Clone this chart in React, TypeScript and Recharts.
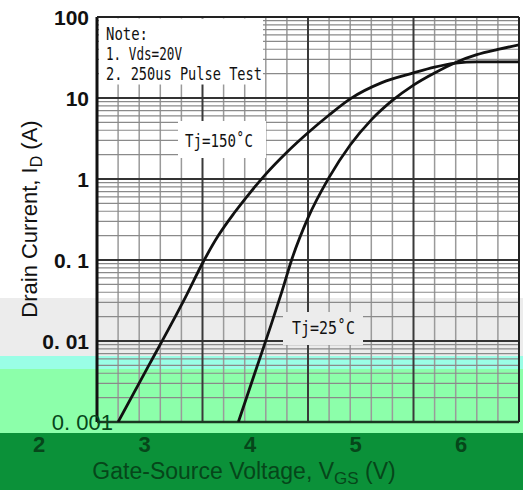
import React from "react";
import { LineChart, Line, XAxis, YAxis, ReferenceLine } from "recharts";

// Gate-source voltage (V) and drain current (A)
const VGS_150 = [2.2, 2.5, 2.7, 2.85, 3.0, 3.15, 3.3, 3.45, 3.6, 3.8, 4.0, 4.2, 4.4, 4.7, 5.0, 5.2, 5.4, 5.6, 6.0];
const ID_150 = [0.001, 0.00525, 0.0158, 0.0372, 0.0912, 0.2, 0.38, 0.676, 1.15, 2.14, 3.72, 6.17, 9.77, 15.5, 20.4, 24.0, 26.9, 27.9, 27.9];
const VGS_25 = [3.34, 3.5, 3.65, 3.75, 3.85, 4.0, 4.2, 4.4, 4.6, 4.8, 5.0, 5.2, 5.4, 5.6, 5.8, 6.0];
const ID_25 = [0.001, 0.00417, 0.0158, 0.0398, 0.105, 0.331, 1.047, 2.63, 5.37, 9.33, 14.45, 20.4, 27.5, 34.3, 39.8, 45.2];

const X_TICKS = [2, 3, 4, 5, 6];
const Y_TICKS = [0.001, 0.01, 0.1, 1, 10, 100];
const Y_TICK_LABELS = ["0. 001", "0. 01", "0. 1", "1", "10", "100"];
const X_MINOR = [2.2, 2.4, 2.6, 2.8, 3.2, 3.4, 3.6, 3.8, 4.2, 4.4, 4.6, 4.8, 5.2, 5.4, 5.6, 5.8];
const X_MAJOR = [3, 4, 5];
const DECADES = [0.001, 0.01, 0.1, 1, 10];
const MANTISSAS = [2, 3, 4, 5, 6, 7, 8, 9];
const Y_MAJOR = [0.01, 0.1, 1, 10];
const NOTE_LINES = ["Note:", "1. Vds=20V", "2. 250us Pulse Test"];
const LABEL_150 = "Tj=150˚C";
const LABEL_25 = "Tj=25˚C";

const data150 = VGS_150.map((v, i) => ({ v, id: ID_150[i] }));
const data25 = VGS_25.map((v, i) => ({ v, id: ID_25[i] }));
const Y_MINOR: number[] = [];
DECADES.forEach((d) => MANTISSAS.forEach((m) => Y_MINOR.push(+(d * m).toPrecision(3))));

const SANS = "'Liberation Sans', Arial, sans-serif";
const MONO = "'DejaVu Sans Mono', 'Liberation Mono', monospace";
const INK = "#111";
const DARK_GREEN_INK = "#06461a";

const XTick = (props: any) => {
  const { x, payload } = props;
  return (
    <text x={x - 58} y={452} textAnchor="middle" fontFamily={SANS} fontSize={22} fontWeight="bold" fill={DARK_GREEN_INK}>
      {payload.value}
    </text>
  );
};

const YTick = (props: any) => {
  const { y, payload } = props;
  const idx = Y_TICKS.indexOf(payload.value);
  const isLast = payload.value === 0.001;
  return (
    <text
      x={isLast ? 113 : 89}
      y={y + 8}
      textAnchor="end"
      fontFamily={SANS}
      fontSize={isLast ? 22 : 21}
      fontWeight={isLast ? "normal" : "bold"}
      fill={isLast ? DARK_GREEN_INK : INK}
    >
      {Y_TICK_LABELS[idx]}
    </text>
  );
};

const YTitle = () => (
  <text transform="translate(37,219) rotate(-90)" textAnchor="middle" fontFamily={SANS} fontSize={22} fill={INK}>
    <tspan>Drain Current, I</tspan>
    <tspan fontSize={16} dy={5}>D</tspan>
    <tspan dy={-5}> (A)</tspan>
  </text>
);

const XTitle = () => (
  <text x={244} y={479} textAnchor="middle" fontFamily={SANS} fontSize={23} fill={DARK_GREEN_INK}>
    <tspan>Gate-Source Voltage, V</tspan>
    <tspan fontSize={17} dy={5}>GS</tspan>
    <tspan dy={-5}> (V)</tspan>
  </text>
);

const bands = [
  { top: 298, h: 58, bg: "#ececec" },
  { top: 356, h: 13, bg: "#9afee6" },
  { top: 369, h: 64, bg: "#8cffaa" },
  { top: 433, h: 57, bg: "#0b9139" },
];

export default function App() {
  return (
    <div style={{ position: "absolute", left: 0, top: 0, width: 523, height: 490, background: "#fff", overflow: "hidden" }}>
      {bands.map((b, i) => (
        <div key={i} style={{ position: "absolute", left: 0, top: b.top, width: 523, height: b.h, background: b.bg }} />
      ))}
      <div style={{ position: "absolute", left: 0, top: 0 }}>
        <LineChart width={523} height={490} margin={{ top: 17, right: 4, bottom: 0, left: 0 }}>
          <XAxis
            type="number"
            dataKey="v"
            domain={[2, 6]}
            ticks={X_TICKS}
            allowDataOverflow
            axisLine={false}
            tickLine={false}
            height={68}
            tick={<XTick />}
            label={{ content: () => <XTitle /> }}
          />
          <YAxis
            type="number"
            dataKey="id"
            scale="log"
            domain={[0.001, 100]}
            ticks={Y_TICKS}
            allowDataOverflow
            axisLine={false}
            tickLine={false}
            width={97}
            tick={<YTick />}
            label={{ content: () => <YTitle /> }}
          />
          {X_MINOR.map((v) => (
            <ReferenceLine key={"xm" + v} x={v} stroke="#9a9a9a" strokeWidth={1.5} />
          ))}
          {Y_MINOR.map((v) => (
            <ReferenceLine key={"ym" + v} y={v} stroke="#8a8a8a" strokeWidth={1.2} />
          ))}
          {X_MAJOR.map((v) => (
            <ReferenceLine key={"xM" + v} x={v} stroke="#3a3a3a" strokeWidth={2} />
          ))}
          {Y_MAJOR.map((v) => (
            <ReferenceLine key={"yM" + v} y={v} stroke="#333" strokeWidth={2} />
          ))}
          <ReferenceLine x={2} stroke="#111" strokeWidth={3} />
          <ReferenceLine x={6} stroke="#222" strokeWidth={2} />
          <ReferenceLine y={100} stroke="#222" strokeWidth={2} />
          <ReferenceLine y={0.001} stroke="#1a3a22" strokeWidth={2.5} />
          <Line data={data150} dataKey="id" type="monotone" stroke="#111" strokeWidth={2.8} dot={false} isAnimationActive={false} />
          <Line data={data25} dataKey="id" type="monotone" stroke="#111" strokeWidth={2.8} dot={false} isAnimationActive={false} />
        </LineChart>
      </div>
      <svg width={523} height={490} style={{ position: "absolute", left: 0, top: 0, pointerEvents: "none" }}>
        <rect x={99} y={18.5} width={164} height={66} fill="#fff" />
        {NOTE_LINES.map((t, i) => (
          <text
            key={t}
            x={106}
            y={40 + i * 20}
            fontFamily={MONO}
            fontSize={17}
            fill={INK}
            textLength={[42, 76, 156][i]}
            lengthAdjust="spacingAndGlyphs"
          >
            {t}
          </text>
        ))}
        <rect x={178} y={121} width={88} height={37} fill="#fff" />
        <text x={185} y={147} fontFamily={MONO} fontSize={17} fill={INK} textLength={68} lengthAdjust="spacingAndGlyphs">
          {LABEL_150}
        </text>
        <rect x={283} y={312} width={80} height={33} fill="#ececec" />
        <text x={292} y={334} fontFamily={MONO} fontSize={17} fill={INK} textLength={63} lengthAdjust="spacingAndGlyphs">
          {LABEL_25}
        </text>
      </svg>
    </div>
  );
}
